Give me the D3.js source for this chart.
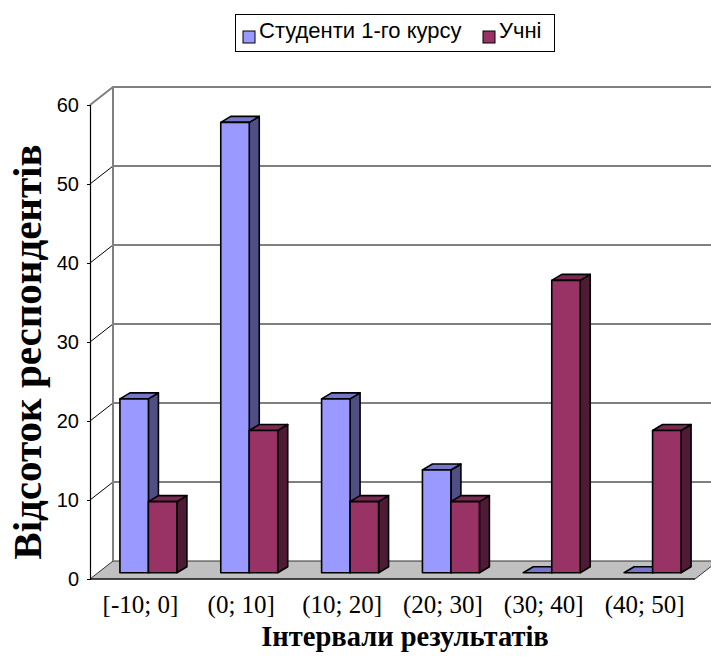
<!DOCTYPE html>
<html>
<head>
<meta charset="utf-8">
<script src="https://cdn.jsdelivr.net/npm/d3@7"></script>
<style>
  html, body { margin: 0; padding: 0; background: #fff; }
  svg { display: block; }
</style>
</head>
<body>
<svg id="chart" width="711" height="659"></svg>
<script>
// Distribution of results by interval
const categories = ["[-10; 0]", "(0; 10]", "(10; 20]", "(20; 30]", "(30; 40]", "(40; 50]"];
const students = [22, 57, 22, 13, 0, 0];
const pupils = [9, 18, 9, 9, 37, 18];
const seriesNames = ["Студенти 1-го курсу", "Учні"];
const yTicks = [0, 10, 20, 30, 40, 50, 60];

const svg = d3.select("#chart");

// Front plane geometry and 3D offsets
const left = 90, right = 695, baseY = 579, topY = 105;
const wall = { dx: 23, dy: -18 };     // front -> back wall
const plane = { dx: 8, dy: -6.3 };    // front -> bar row
const depth = { dx: 10, dy: -6 };     // bar thickness

const y = d3.scaleLinear().domain([0, 60]).range([baseY, topY]);
const x = d3.scaleBand().domain(categories).range([left, right])
  .paddingInner(0.435).paddingOuter(0.2175);
const xs = d3.scaleBand().domain(seriesNames).range([0, x.bandwidth()]);

const colors = {
  "Студенти 1-го курсу": { front: "#9999FF", top: "#7676C8", side: "#4F4F86" },
  "Учні": { front: "#993366", top: "#7A2952", side: "#4F1A35" }
};

// Floor
const floorPts = [
  [left, baseY], [right, baseY],
  [right + wall.dx, baseY + wall.dy], [left + wall.dx, baseY + wall.dy]
];
svg.append("polygon")
  .attr("points", floorPts.map(p => p.join(",")).join(" "))
  .attr("fill", "#C0C0C0").attr("stroke", "#333").attr("stroke-width", 1);

// Back wall grid lines with diagonals on the side
const grid = svg.append("g");
yTicks.forEach(t => {
  if (t === 0) return;
  const yy = y(t);
  const isTop = t === 60;
  grid.append("path")
    .attr("d", `M${left},${yy}L${left + wall.dx},${yy + wall.dy}L${right + wall.dx + 20},${yy + wall.dy}`)
    .attr("fill", "none")
    .attr("stroke", isTop ? "#808080" : "#000")
    .attr("stroke-width", isTop ? 2 : 1);
});
grid.append("line")
  .attr("x1", left + wall.dx).attr("x2", left + wall.dx)
  .attr("y1", y(60) + wall.dy).attr("y2", baseY + wall.dy)
  .attr("stroke", "#808080").attr("stroke-width", 2);

// Y axis
const yAxis = svg.append("g")
  .attr("transform", `translate(${left},0)`)
  .call(d3.axisLeft(y).tickValues(yTicks).tickSize(3).tickPadding(8));
yAxis.select(".domain").attr("stroke", "#000").attr("stroke-width", 1.2);
yAxis.selectAll(".tick line").attr("stroke", "#000");
yAxis.selectAll("text")
  .attr("font-family", "Liberation Sans, Arial, sans-serif")
  .attr("font-size", 20).attr("fill", "#000");

// Bars
function drawBar(g, xl, w, v, c) {
  const b = y(0) + plane.dy;
  const t = y(v) + plane.dy;
  const xr = xl + w;
  const poly = (pts, fill) => g.append("polygon")
    .attr("points", pts.map(q => q.join(",")).join(" "))
    .attr("fill", fill)
    .attr("stroke", "#000").attr("stroke-width", 1.6)
    .attr("stroke-linejoin", "round");
  poly([[xr, t], [xr + depth.dx, t + depth.dy], [xr + depth.dx, b + depth.dy], [xr, b]], c.side);
  poly([[xl, t], [xl + depth.dx, t + depth.dy], [xr + depth.dx, t + depth.dy], [xr, t]], c.top);
  if (v > 0) poly([[xl, t], [xr, t], [xr, b], [xl, b]], c.front);
}

const bars = svg.append("g");
categories.forEach((cat, i) => {
  const vals = [students[i], pupils[i]];
  seriesNames.forEach((s, j) => {
    const xl = x(cat) + xs(s) + plane.dx;
    drawBar(bars, xl, xs.bandwidth(), vals[j], colors[s]);
  });
});

// Front x-axis line
svg.append("line")
  .attr("x1", left).attr("x2", right).attr("y1", baseY).attr("y2", baseY)
  .attr("stroke", "#000").attr("stroke-width", 1.2);

// X axis labels
const xAxis = svg.append("g")
  .attr("transform", `translate(0,${baseY})`)
  .call(d3.axisBottom(x).tickSize(0).tickPadding(0));
xAxis.select(".domain").remove();
xAxis.selectAll("text")
  .attr("y", 34).attr("dy", 0)
  .attr("font-family", "Liberation Serif, Times New Roman, serif")
  .attr("font-size", 25).attr("fill", "#000");

// Axis titles
svg.append("text")
  .attr("x", 405).attr("y", 646)
  .attr("text-anchor", "middle")
  .attr("font-family", "Liberation Serif, Times New Roman, serif")
  .attr("font-weight", "bold").attr("font-size", 28.5)
  .text("Інтервали результатів");

svg.append("text")
  .attr("transform", "translate(41,352) rotate(-90)")
  .attr("text-anchor", "middle")
  .attr("font-family", "Liberation Serif, Times New Roman, serif")
  .attr("font-weight", "bold").attr("font-size", 41)
  .text("Відсоток респондентів");

// Legend
const legend = svg.append("g");
legend.append("rect")
  .attr("x", 235.5).attr("y", 14.5).attr("width", 319).attr("height", 37)
  .attr("fill", "#fff").attr("stroke", "#000").attr("stroke-width", 1);
const legendItems = [
  { name: seriesNames[0], sx: 243, tx: 259 },
  { name: seriesNames[1], sx: 483, tx: 499 }
];
legendItems.forEach(it => {
  legend.append("rect")
    .attr("x", it.sx).attr("y", 31).attr("width", 12).attr("height", 12)
    .attr("fill", colors[it.name].front).attr("stroke", "#000").attr("stroke-width", 1);
  legend.append("text")
    .attr("x", it.tx).attr("y", 38)
    .attr("font-family", "Liberation Sans, Arial, sans-serif")
    .attr("font-size", 22).attr("fill", "#000")
    .text(it.name);
});
</script>
</body>
</html>
